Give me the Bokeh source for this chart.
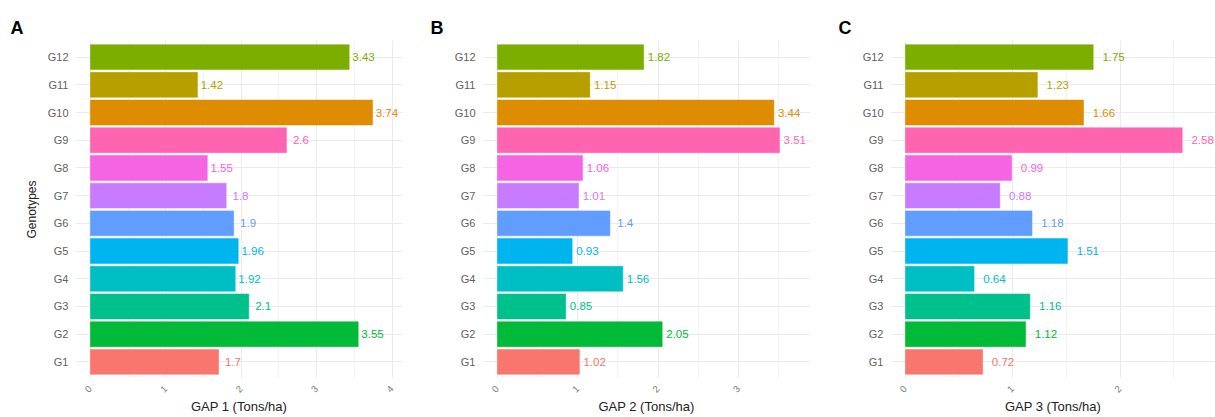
import math
from bokeh.plotting import figure
from bokeh.models import SingleIntervalTicker, FactorRange, Range1d, ColumnDataSource
from bokeh.layouts import row
from bokeh.embed import file_html
from bokeh.resources import INLINE
from bokeh.core.properties import value

genotypes = ["G1", "G2", "G3", "G4", "G5", "G6", "G7", "G8", "G9", "G10", "G11", "G12"]
gap1 = [1.7, 3.55, 2.1, 1.92, 1.96, 1.9, 1.8, 1.55, 2.6, 3.74, 1.42, 3.43]
gap2 = [1.02, 2.05, 0.85, 1.56, 0.93, 1.4, 1.01, 1.06, 3.51, 3.44, 1.15, 1.82]
gap3 = [0.72, 1.12, 1.16, 0.64, 1.51, 1.18, 0.88, 0.99, 2.58, 1.66, 1.23, 1.75]
colors = ["#F8766D", "#00BA38", "#00C08B", "#00BFC4", "#00B4F0", "#619CFF",
          "#C77CFF", "#F564E3", "#FF64B0", "#DE8C00", "#B79F00", "#7CAE00"]
panel_letters = ["A", "B", "C"]
x_titles = ["GAP 1 (Tons/ha)", "GAP 2 (Tons/ha)", "GAP 3 (Tons/ha)"]

FONT = "Liberation Sans"
NUDGE = 0.19

# layout: (width, min_border_left, min_border_right, x_end_override, letter_offset)
layout = [(405, 75, 3, None, -65), (405, 77, 0, None, -52), (405, 80, 0, 2.89, -52)]

figs = []
for i, vals in enumerate([gap1, gap2, gap3]):
    w, bl, br, xend, loff = layout[i]
    m = max(vals) + 0.2
    x0 = -0.05 * m
    x1 = m * 1.05 if xend is None else xend
    src = ColumnDataSource(dict(
        g=genotypes, v=vals, c=colors,
        lx=[v + NUDGE for v in vals],
        lbl=[str(v) for v in vals],
    ))
    p = figure(width=w, height=417, output_backend="svg", toolbar_location=None,
               y_range=FactorRange(factors=genotypes, range_padding=0.1,
                                   range_padding_units="absolute"),
               x_range=Range1d(x0, x1),
               min_border_left=bl, min_border_right=br,
               min_border_top=40, min_border_bottom=36)
    p.hbar(y="g", right="v", left=0, height=0.9, fill_color="c", line_color="c",
           line_alpha=0.5, line_width=1, source=src)
    p.text(x="lx", y="g", text="lbl", text_color="c", text_align="center",
           text_baseline="middle", text_font_size="11.5px", text_font=value(FONT),
           source=src)

    p.title.text = panel_letters[i]
    p.title.text_font = FONT
    p.title.text_font_size = "18px"
    p.title.text_font_style = "bold"
    p.title.text_color = "black"
    p.title.align = "left"
    p.title.offset = loff
    p.title.standoff = 6

    p.outline_line_color = None
    p.background_fill_color = "white"
    p.border_fill_color = "white"
    p.xaxis.ticker = SingleIntervalTicker(interval=1, num_minor_ticks=2)
    for ax in (p.xaxis, p.yaxis):
        ax.axis_line_color = None
        ax.major_tick_line_color = None
        ax.minor_tick_line_color = None
        ax.major_tick_out = 0
        ax.major_tick_in = 0
        ax.major_label_text_font = FONT
        ax.axis_label_text_font = FONT
        ax.axis_label_text_font_style = "normal"
        ax.axis_label_text_color = "#222222"
        ax.axis_label_text_line_height = 1.0
        ax.major_label_text_line_height = 1.0
    p.xaxis.major_label_orientation = math.pi / 4
    p.xaxis.major_label_text_font_size = "9.5px"
    p.xaxis.major_label_text_color = "#7a7a7a"
    p.xaxis.major_label_standoff = 5
    p.xaxis.axis_label = x_titles[i]
    p.xaxis.axis_label_text_font_size = "13px"
    p.xaxis.axis_label_standoff = 1
    p.yaxis.major_label_text_font_size = "11px"
    p.yaxis.major_label_text_color = "#5f5f5f"
    p.yaxis.major_label_standoff = 7
    if i == 0:
        p.yaxis.axis_label = "Genotypes"
        p.yaxis.axis_label_text_font_size = "12px"
        p.yaxis.axis_label_standoff = 6

    p.xgrid.grid_line_color = "#EBEBEB"
    p.xgrid.grid_line_width = 1
    p.xgrid.minor_grid_line_color = "#F3F3F3"
    p.xgrid.minor_grid_line_width = 1
    p.ygrid.grid_line_color = "#EBEBEB"
    p.ygrid.grid_line_width = 1
    figs.append(p)

layout_row = row(*figs, spacing=0)
open("out.html", "w").write(file_html(layout_row, INLINE))
